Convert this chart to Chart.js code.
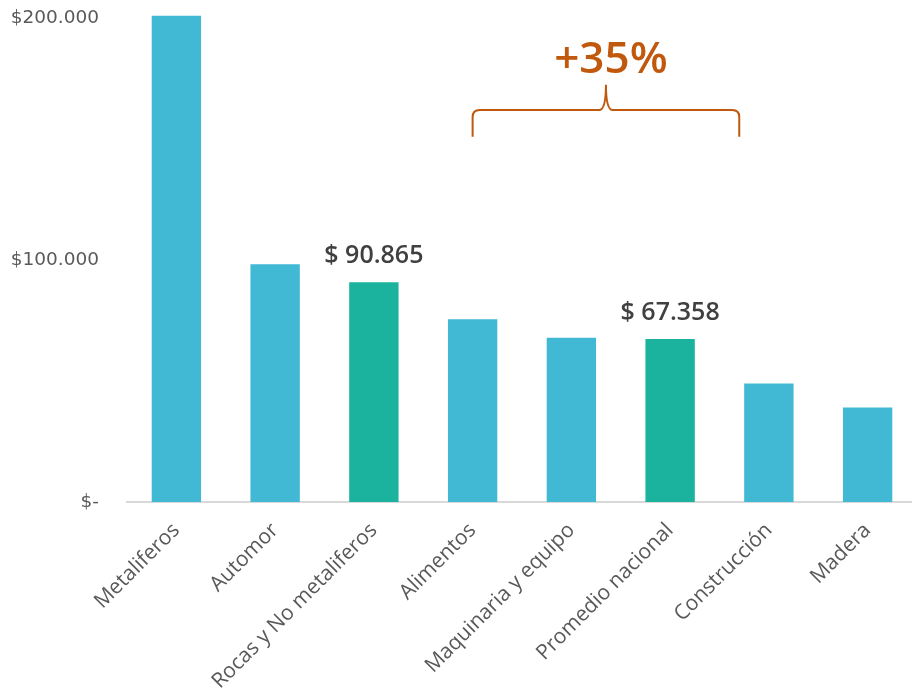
<!DOCTYPE html>
<html>
<head>
<meta charset="utf-8">
<script src="https://cdn.jsdelivr.net/npm/chart.js@4.4.1/dist/chart.umd.min.js"></script>
<style>
  html, body { margin: 0; padding: 0; background: #fff; overflow: hidden; }
</style>
</head>
<body>
<canvas id="salaryChart" width="920" height="694"></canvas>
<script>
// data
const categories = ['Metaliferos', 'Automor', 'Rocas y No metaliferos', 'Alimentos',
    'Maquinaria y equipo', 'Promedio nacional', 'Construcción', 'Madera'];
const salaries = [201000, 98300, 90865, 75500, 67900, 67358, 49000, 39100];
const highlighted = [false, false, true, false, false, true, false, false];
const yTicks = [0, 100000, 200000];
const yTickLabels = ['$-', '$100.000', '$200.000'];
const valueLabels = { 2: '$ 90.865', 5: '$ 67.358' };
const braceText = '+35%';

const blue = '#41B9D4';
const green = '#1BB39E';
const orange = '#C0580E';

const barColors = salaries.map((v, i) => highlighted[i] ? green : blue);

// labels above the two highlighted bars
const valueLabelPlugin = {
    id: 'valueLabels',
    afterDatasetsDraw(chart) {
        const ctx = chart.ctx;
        const meta = chart.getDatasetMeta(0);
        ctx.save();
        ctx.font = '600 25px "Open Sans", sans-serif';
        ctx.fillStyle = '#404040';
        ctx.textAlign = 'center';
        ctx.textBaseline = 'middle';
        Object.keys(valueLabels).forEach(k => {
            const bar = meta.data[+k];
            ctx.fillText(valueLabels[k], bar.x, bar.y - 26);
        });
        ctx.restore();
    }
};

// curly brace spanning Alimentos -> Promedio nacional
const bracePlugin = {
    id: 'brace',
    afterDraw(chart) {
        const ctx = chart.ctx;
        const x = chart.scales.x;
        const y = chart.scales.y;
        const x0 = x.getPixelForValue(3);
        const x1 = x.getPixelForValue(5.7);
        const xm = (x0 + x1) / 2;
        const yLine = y.getPixelForValue(162000);
        const yEnd = y.getPixelForValue(151000);
        const yTip = y.getPixelForValue(172500);
        const r = 7;
        ctx.save();
        ctx.strokeStyle = orange;
        ctx.lineWidth = 2;
        ctx.beginPath();
        ctx.moveTo(x0, yEnd);
        ctx.lineTo(x0, yLine + r);
        ctx.quadraticCurveTo(x0, yLine, x0 + r, yLine);
        ctx.lineTo(xm - r, yLine);
        ctx.quadraticCurveTo(xm, yLine, xm, yTip);
        ctx.quadraticCurveTo(xm, yLine, xm + r, yLine);
        ctx.lineTo(x1 - r, yLine);
        ctx.quadraticCurveTo(x1, yLine, x1, yLine + r);
        ctx.lineTo(x1, yEnd);
        ctx.stroke();

        ctx.font = '600 44px "Open Sans", sans-serif';
        ctx.fillStyle = orange;
        ctx.textAlign = 'center';
        ctx.textBaseline = 'middle';
        ctx.fillText(braceText, xm + 5, y.getPixelForValue(182500));
        ctx.restore();
    }
};

const ctx = document.getElementById('salaryChart').getContext('2d');
new Chart(ctx, {
    type: 'bar',
    data: {
        labels: categories,
        datasets: [{
            data: salaries,
            backgroundColor: barColors,
            borderWidth: 0,
            barPercentage: 0.5,
            categoryPercentage: 1.0
        }]
    },
    options: {
        responsive: false,
        animation: false,
        devicePixelRatio: 1,
        layout: { padding: { top: 6, left: 0, right: 3, bottom: 0 } },
        plugins: {
            legend: { display: false },
            tooltip: { enabled: false }
        },
        scales: {
            x: {
                grid: { display: false, drawTicks: false },
                border: { display: true, color: '#D9D9D9', width: 2 },
                ticks: {
                    color: '#595959',
                    font: { family: '"Open Sans", sans-serif', size: 21 },
                    minRotation: 45,
                    maxRotation: 45,
                    padding: 16,
                    autoSkip: false
                },
                afterFit(scale) {
                    scale.height = 192;
                    scale.paddingLeft = 0;
                    scale.paddingRight = 0;
                }
            },
            y: {
                min: 0,
                max: 205000,
                grid: { display: false, drawTicks: false },
                border: { display: false },
                afterBuildTicks(scale) {
                    scale.ticks = yTicks.map(v => ({ value: v }));
                },
                ticks: {
                    color: '#595959',
                    font: { family: '"DejaVu Sans", sans-serif', size: 18.5 },
                    padding: 28,
                    callback: (v) => yTickLabels[yTicks.indexOf(v)]
                },
                afterFit(scale) {
                    scale.width = 127;
                    scale.paddingTop = 0;
                    scale.paddingBottom = 0;
                }
            }
        }
    },
    plugins: [valueLabelPlugin, bracePlugin]
});
</script>
</body>
</html>
